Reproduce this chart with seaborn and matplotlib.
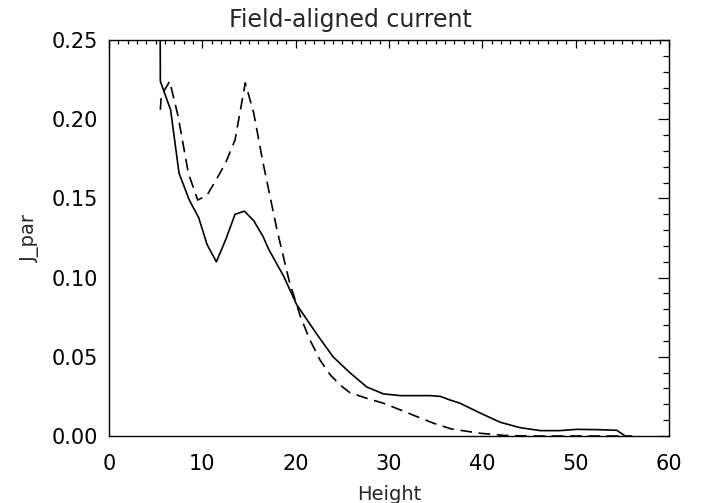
import matplotlib
matplotlib.use("Agg")
import matplotlib.pyplot as plt
import numpy as np
import pandas as pd
import seaborn as sns
from matplotlib.ticker import MultipleLocator

# Solid curve
solid_height = [5.4, 5.5, 6.6, 7.5, 8.6, 9.6, 10.5, 11.5, 12.5, 13.5, 14.5, 15.5,
                16.5, 17.1, 18.7, 20.1, 22.3, 24.0, 25.8, 27.6, 29.4, 31.2, 33.3,
                34.4, 35.5, 36.5, 37.6, 39.8, 41.9, 44.0, 46.2, 48.3, 50.1, 52.5,
                54.4, 55.3, 56.0]
solid_jpar = [0.40, 0.224, 0.206, 0.166, 0.149, 0.138, 0.121, 0.110, 0.124, 0.140,
              0.142, 0.136, 0.126, 0.118, 0.101, 0.083, 0.064, 0.050, 0.040, 0.031,
              0.0266, 0.0255, 0.0255, 0.0255, 0.025, 0.0228, 0.0207, 0.0144, 0.0087,
              0.0053, 0.0034, 0.0034, 0.0042, 0.0040, 0.0036, 0.0, 0.0]

# Dashed curve
dashed_height = [5.5, 5.6, 6.5, 7.4, 8.5, 9.5, 10.5, 11.5, 12.5, 13.5, 14.6, 15.5,
                 16.5, 18.0, 19.3, 20.5, 21.5, 22.6, 23.7, 24.8, 25.8, 27.6, 29.4,
                 31.2, 33.0, 34.8, 36.7, 39.8, 42.5, 45.0, 55.0]
dashed_jpar = [0.206, 0.215, 0.224, 0.202, 0.166, 0.149, 0.152, 0.162, 0.1726,
               0.187, 0.223, 0.204, 0.1726, 0.130, 0.098, 0.0755, 0.061, 0.048,
               0.0386, 0.032, 0.0274, 0.0238, 0.0207, 0.0165, 0.0122, 0.008,
               0.0044, 0.0017, 0.0003, 0.0, 0.0]

x_ticks = [0, 10, 20, 30, 40, 50, 60]
y_ticks = [0.00, 0.05, 0.10, 0.15, 0.20, 0.25]

sns.set_style("white")
plt.rcParams["font.family"] = ["DejaVu Sans"]

solid_df = pd.DataFrame({"Height": solid_height, "J_par": solid_jpar})
dashed_df = pd.DataFrame({"Height": dashed_height, "J_par": dashed_jpar})

fig = plt.figure(figsize=(7.01, 5.03), dpi=100)
ax = fig.add_axes([0.1555, 0.1332, 0.799, 0.787])

sns.lineplot(data=solid_df, x="Height", y="J_par", color="black",
             linewidth=1.2, sort=False, ax=ax)
sns.lineplot(data=dashed_df, x="Height", y="J_par", color="black",
             linewidth=1.2, sort=False, ax=ax)
ax.lines[-1].set_linestyle((0, (7, 4)))

ax.set_xlim(0, 60)
ax.set_ylim(0, 0.25)
ax.set_xticks(x_ticks)
ax.set_yticks(y_ticks)
ax.set_xticklabels([str(t) for t in x_ticks])
ax.set_yticklabels([f"{t:.2f}" for t in y_ticks])
ax.xaxis.set_minor_locator(MultipleLocator(1))
ax.yaxis.set_minor_locator(MultipleLocator(0.01))

ax.tick_params(which="both", direction="in", top=True, right=True,
               labelsize=15, colors="black", width=0.9)
ax.tick_params(axis="x", which="both", pad=13)
ax.tick_params(axis="y", which="both", pad=8)
ax.tick_params(axis="x", which="major", length=6)
ax.tick_params(axis="x", which="minor", length=3)
ax.tick_params(axis="y", which="major", length=8)
ax.tick_params(axis="y", which="minor", length=4.5)

for spine in ax.spines.values():
    spine.set_color("black")
    spine.set_linewidth(1.0)

ax.set_xlabel("Height", fontsize=14, labelpad=8)
ax.set_ylabel("J_par", fontsize=14, labelpad=8)
fig.suptitle("Field-aligned current", fontsize=17, x=0.5, y=0.985)

fig.savefig("out.png", dpi=100)
